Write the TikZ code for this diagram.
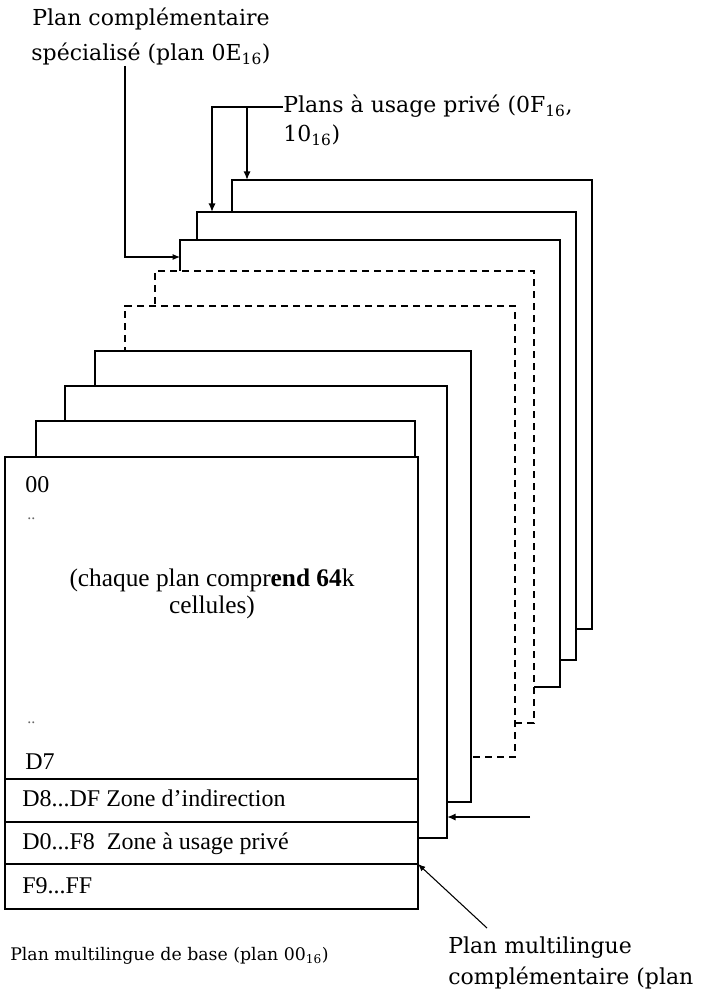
\documentclass[tikz,border=0pt]{standalone}
\usepackage{fontspec}
\setmainfont{Liberation Serif}
\newfontfamily\labfont{DejaVu Serif}
\usetikzlibrary{arrows.meta,fit}
\begin{document}
\begin{tikzpicture}[x=0.75pt,y=-0.75pt,
  plane/.style={draw,fill=white,line width=1pt,inner sep=0pt,outer sep=0pt},
  dplane/.style={plane,dash pattern=on 5.5pt off 3.5pt,line width=1.3pt},
  divider/.style={line width=1pt},
  arrthin/.style={line width=0.8pt,-{Latex[length=5.5pt,width=4.5pt]}},
  arrthick/.style={line width=1.4pt,-{Latex[length=6.5pt,width=5.5pt]}},
  lab/.style={font=\labfont\fontsize{16.5}{20}\selectfont,inner sep=0pt},
  smalllab/.style={font=\labfont\fontsize{13}{16}\selectfont,inner sep=0pt},
  boxt/.style={font=\fontsize{18}{21}\selectfont,inner sep=0pt,anchor=base west},
  bigt/.style={font=\fontsize{19}{22}\selectfont,inner sep=0pt,anchor=base},
  dots/.style={font=\fontsize{12}{14}\selectfont,inner sep=0pt,anchor=base west,text=black!60}
]
\useasboundingbox (0,0) rectangle (700,995);

% stacked planes, back to front
\node[plane,fit={(232,180)(592,629)}] (pA) {};
\node[plane,fit={(197,212)(576,660)}] (pB) {};
\node[plane,fit={(180,240)(560,687)}] (pC) {};
\node[dplane,fit={(155,271)(534,723)}] (pD) {};
\node[dplane,fit={(125,306)(515,757)}] (pE) {};
\node[plane,fit={(95,351)(471,802)}] (pF) {};
\node[plane,fit={(65,386)(447,838)}] (pG) {};
\node[plane,fit={(36,421)(415,870)}] (pH) {};
\node[plane,fit={(5,457)(418,909)}] (front) {};

% dividers in front plane
\coordinate (d1) at (0,779);
\coordinate (d2) at (0,822);
\coordinate (d3) at (0,864);
\draw[divider] (front.west |- d1) -- (front.east |- d1);
\draw[divider] (front.west |- d2) -- (front.east |- d2);
\draw[divider] (front.west |- d3) -- (front.east |- d3);

% texts in front plane
\node[boxt] (t00) at (25,492) {00};
\node[dots] (dt1) at (27,519) {..};
\node[bigt] (tc1) at (212,586) {(chaque plan compr\textbf{end 64}k};
\node[bigt] (tc2) at (212,613) {cellules)};
\node[dots] (dt2) at (27,723) {..};
\node[boxt] (tD7) at (25,769) {D7};
\node[boxt] (tD8) at (22,806) {D8...DF Zone d’indirection};
\node[boxt] (tD0) at (22,849) {D0...F8\ \ Zone à usage privé};
\node[boxt] (tF9) at (22,893) {F9...FF};

% labels
\node[lab,anchor=base] (lab1a) at (151,26) {Plan complémentaire};
\node[lab,anchor=base] (lab1b) at (151,61) {spécialisé (plan 0E\textsubscript{16})};
\node[lab,anchor=base west] (lab2a) at (283,113) {Plans à usage privé (0F\textsubscript{16},};
\node[lab,anchor=base west] (lab2b) at (283,142) {10\textsubscript{16})};
\node[lab,anchor=base west] (lab5a) at (448,953) {Plan multilingue};
\node[lab,anchor=base west] (lab5b) at (448,984) {complémentaire (plan};
\node[smalllab,anchor=base west] (lab4) at (10,960) {Plan multilingue de base (plan 00\textsubscript{16})};

% connectors
\coordinate (k1) at (125,257);
\draw[arrthin] (lab1b.south -| k1) -- (k1) -- (pC.west |- k1);

\coordinate (k2) at (212,107);
\coordinate (k3) at (247,107);
\draw[arrthick] (lab2a.west |- k2) -- (k2) -- (pB.north -| k2);
\draw[arrthick] (k3) -- (pA.north -| k3);

\coordinate (k4) at (530,817);
\draw[arrthick] (k4) -- (pG.east |- k4);

\coordinate (k5) at (487,928);
\draw[arrthin] (k5) -- (front.east |- d3);
\end{tikzpicture}
\end{document}
